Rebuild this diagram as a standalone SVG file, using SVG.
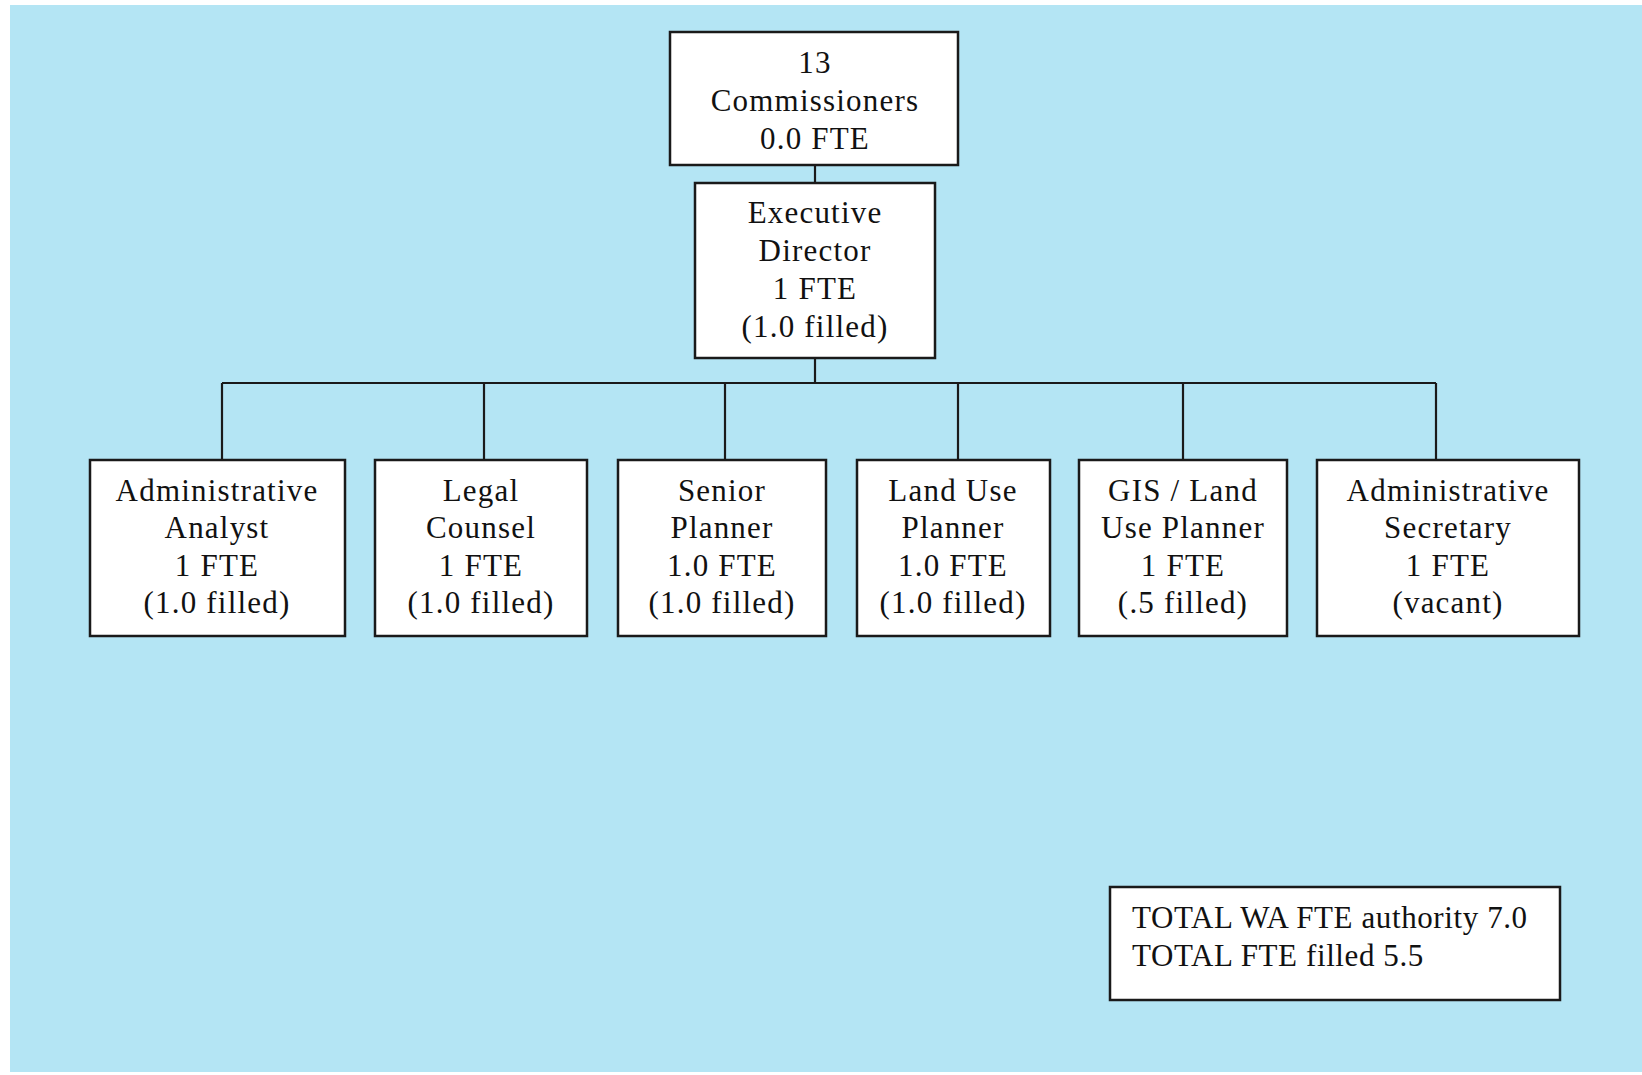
<svg xmlns="http://www.w3.org/2000/svg" width="1642" height="1075" viewBox="0 0 1642 1075">
<style>
.box{fill:#ffffff;stroke:#1a1a1a;stroke-width:2.5}
.t{font-family:"Liberation Serif","Times New Roman",serif;font-size:31px;fill:#111;text-anchor:middle;letter-spacing:1.2px}
.tl{font-family:"Liberation Serif","Times New Roman",serif;font-size:31px;fill:#111;letter-spacing:0.6px}
.c{stroke:#1a1a1a;stroke-width:2.2;fill:none}
</style>
<rect x="0" y="0" width="1642" height="1075" fill="#ffffff"/>
<rect x="10" y="5" width="1632" height="1067" fill="#b4e5f4"/>
<g id="connectors">
<line class="c" x1="815" y1="165" x2="815" y2="183"/>
<line class="c" x1="815" y1="358" x2="815" y2="383"/>
<line class="c" x1="222" y1="383" x2="1436" y2="383"/>
<line class="c" x1="222" y1="383" x2="222" y2="460"/>
<line class="c" x1="484" y1="383" x2="484" y2="460"/>
<line class="c" x1="725" y1="383" x2="725" y2="460"/>
<line class="c" x1="958" y1="383" x2="958" y2="460"/>
<line class="c" x1="1183" y1="383" x2="1183" y2="460"/>
<line class="c" x1="1436" y1="383" x2="1436" y2="460"/>
</g>
<g id="commissioners">
<rect class="box" x="670" y="32" width="288" height="133"/>
<text class="t" x="815" y="73">13</text>
<text class="t" x="815" y="111">Commissioners</text>
<text class="t" x="815" y="149">0.0 FTE</text>
</g>
<g id="executive-director">
<rect class="box" x="695" y="183" width="240" height="175"/>
<text class="t" x="815" y="223">Executive</text>
<text class="t" x="815" y="261">Director</text>
<text class="t" x="815" y="299">1 FTE</text>
<text class="t" x="815" y="337">(1.0 filled)</text>
</g>
<g id="admin-analyst">
<rect class="box" x="90" y="460" width="255" height="176"/>
<text class="t" x="217" y="501">Administrative</text>
<text class="t" x="217" y="538">Analyst</text>
<text class="t" x="217" y="576">1 FTE</text>
<text class="t" x="217" y="613">(1.0 filled)</text>
</g>
<g id="legal-counsel">
<rect class="box" x="375" y="460" width="212" height="176"/>
<text class="t" x="481" y="501">Legal</text>
<text class="t" x="481" y="538">Counsel</text>
<text class="t" x="481" y="576">1 FTE</text>
<text class="t" x="481" y="613">(1.0 filled)</text>
</g>
<g id="senior-planner">
<rect class="box" x="618" y="460" width="208" height="176"/>
<text class="t" x="722" y="501">Senior</text>
<text class="t" x="722" y="538">Planner</text>
<text class="t" x="722" y="576">1.0 FTE</text>
<text class="t" x="722" y="613">(1.0 filled)</text>
</g>
<g id="land-use-planner">
<rect class="box" x="857" y="460" width="193" height="176"/>
<text class="t" x="953" y="501">Land Use</text>
<text class="t" x="953" y="538">Planner</text>
<text class="t" x="953" y="576">1.0 FTE</text>
<text class="t" x="953" y="613">(1.0 filled)</text>
</g>
<g id="gis-land-use-planner">
<rect class="box" x="1079" y="460" width="208" height="176"/>
<text class="t" x="1183" y="501">GIS / Land</text>
<text class="t" x="1183" y="538">Use Planner</text>
<text class="t" x="1183" y="576">1 FTE</text>
<text class="t" x="1183" y="613">(.5 filled)</text>
</g>
<g id="admin-secretary">
<rect class="box" x="1317" y="460" width="262" height="176"/>
<text class="t" x="1448" y="501">Administrative</text>
<text class="t" x="1448" y="538">Secretary</text>
<text class="t" x="1448" y="576">1 FTE</text>
<text class="t" x="1448" y="613">(vacant)</text>
</g>
<g id="totals">
<rect class="box" x="1110" y="887" width="450" height="113"/>
<text class="tl" x="1132" y="928">TOTAL WA FTE authority 7.0</text>
<text class="tl" x="1132" y="966">TOTAL FTE filled 5.5</text>
</g>
</svg>
